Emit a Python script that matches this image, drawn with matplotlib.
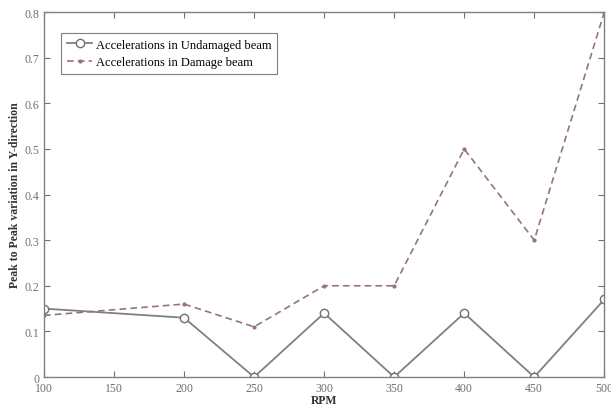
import matplotlib
matplotlib.use("Agg")
import matplotlib.pyplot as plt

rpm = [100, 200, 250, 300, 350, 400, 450, 500]
undamaged = [0.15, 0.13, 0.0, 0.14, 0.0, 0.14, 0.0, 0.17]
damaged = [0.135, 0.16, 0.11, 0.20, 0.20, 0.50, 0.30, 0.80]
xticks = [100, 150, 200, 250, 300, 350, 400, 450, 500]
yticks = [0, 0.1, 0.2, 0.3, 0.4, 0.5, 0.6, 0.7, 0.8]
ytick_labels = ["0", "0.1", "0.2", "0.3", "0.4", "0.5", "0.6", "0.7", "0.8"]

plt.rcParams['font.family'] = ['Liberation Serif', 'DejaVu Serif']
fig = plt.figure(figsize=(6.11, 4.10), dpi=100)
ax = fig.add_axes([0.072, 0.078, 0.917, 0.89])

ax.plot(rpm, undamaged, color='#808080', lw=1.3, marker='o', ms=6,
        mfc='white', mec='#707070', mew=1.0, label='Accelerations in Undamaged beam')
ax.plot(rpm, damaged, color='#957575', lw=1.2, ls='--', dashes=(4, 2.5), marker='.', ms=4,
        label='Accelerations in Damage beam')

ax.set_xlim(100, 500)
ax.set_ylim(0, 0.8)
ax.set_xticks(xticks)
ax.set_yticks(yticks)
ax.set_yticklabels(ytick_labels)
ax.tick_params(direction='in', top=True, right=True, length=4, labelsize=8.5, colors='#707070', width=0.8)
for s in ax.spines.values():
    s.set_color('#808080')
    s.set_linewidth(1.0)
ax.set_xlabel('RPM', fontsize=8.5, color='#333333', labelpad=0, fontweight='bold')
ax.set_ylabel('Peak to Peak variation in Y-direction', fontsize=8.5, color='#333333', labelpad=2, fontweight='bold')
leg = ax.legend(loc='upper left', bbox_to_anchor=(0.02, 0.96), fontsize=9, frameon=True, fancybox=False,
                edgecolor='#606060', handlelength=2.0, handletextpad=0.3, borderpad=0.45, labelspacing=0.45)
leg.get_frame().set_linewidth(0.8)
fig.savefig('out.png', dpi=100)
